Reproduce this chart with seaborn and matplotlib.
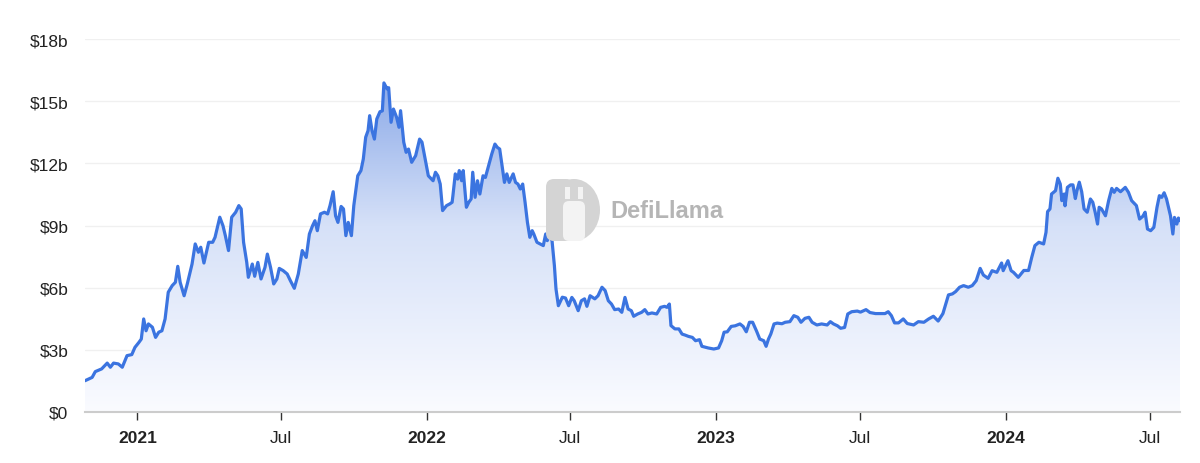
import numpy as np
import pandas as pd
import seaborn as sns
import matplotlib.pyplot as plt
from matplotlib.colors import LinearSegmentedColormap
from matplotlib.patches import FancyBboxPatch, Ellipse, Rectangle
from matplotlib.transforms import IdentityTransform
import matplotlib.dates as mdates

# days since 2021-01-01, TVL in $ billions
days = [
    -66, -57, -53, -45, -38, -34, -30, -24, -19, -13, -7, -3, 2, 5, 8, 11, 14, 19, 23, 27,
    31, 35, 39, 44, 48, 51, 54, 59, 63, 69, 73, 77, 80, 84, 90, 95, 98, 104, 108, 111,
    115, 119, 124, 128, 131, 134, 138, 140, 145, 148, 152, 156, 161, 164, 168, 172, 176, 179, 184, 189,
    193, 198, 203, 208, 213, 217, 221, 224, 227, 231, 236, 240, 243, 247, 250, 253, 257, 260, 263, 266,
    270, 273, 278, 282, 285, 288, 291, 293, 296, 299, 302, 306, 309, 311, 315, 317, 320, 323, 327, 330,
    332, 336, 339, 342, 346, 351, 356, 359, 363, 367, 373, 376, 379, 382, 385, 390, 394, 397, 398, 401,
    404, 406, 409, 411, 415, 418, 421, 423, 426, 429, 432, 436, 439, 443, 447, 451, 454, 457, 460, 463,
    466, 469, 474, 477, 480, 483, 486, 489, 492, 495, 498, 500, 504, 508, 512, 515, 517, 520, 523, 526,
    528, 531, 536, 540, 544, 548, 551, 556, 560, 564, 567, 571, 577, 581, 586, 590, 594, 598, 602, 607,
    611, 615, 619, 623, 626, 631, 636, 640, 644, 649, 655, 660, 665, 668, 671, 673, 678, 683, 687, 691,
    695, 700, 704, 709, 712, 720, 727, 733, 737, 740, 744, 749, 754, 760, 764, 768, 772, 776, 781, 785,
    790, 793, 796, 799, 803, 807, 813, 817, 823, 828, 833, 837, 842, 847, 851, 857, 863, 870, 874, 878,
    883, 887, 892, 896, 901, 908, 912, 919, 924, 931, 937, 943, 947, 951, 955, 960, 966, 971, 979, 985,
    992, 998, 1004, 1010, 1016, 1019, 1023, 1028, 1032, 1037, 1042, 1048, 1053, 1058, 1063, 1067, 1073, 1078, 1084, 1090,
    1092, 1098, 1102, 1105, 1111, 1118, 1124, 1128, 1132, 1137, 1143, 1146, 1148, 1151, 1153, 1158, 1161, 1164, 1166, 1169,
    1170, 1173, 1177, 1180, 1183, 1185, 1188, 1191, 1194, 1198, 1202, 1205, 1208, 1211, 1213, 1216, 1221, 1225, 1229, 1232,
    1235, 1240, 1246, 1250, 1254, 1260, 1264, 1268, 1271, 1274, 1278, 1282, 1286, 1289, 1292, 1295, 1298, 1303, 1306, 1308,
    1311, 1313, 1315,
]
tvl = [
    1.51, 1.67, 1.95, 2.08, 2.36, 2.16, 2.36, 2.32, 2.16, 2.72, 2.77, 3.12, 3.36, 3.52, 4.49, 3.92, 4.25, 4.09, 3.60, 3.85,
    3.92, 4.49, 5.78, 6.10, 6.26, 7.03, 6.26, 5.61, 6.18, 7.14, 8.11, 7.71, 7.95, 7.19, 8.19, 8.19, 8.43, 9.40, 8.99, 8.51,
    7.79, 9.40, 9.64, 9.96, 9.80, 8.19, 7.22, 6.50, 7.14, 6.55, 7.22, 6.42, 6.98, 7.62, 6.98, 6.18, 6.42, 6.93, 6.82, 6.66,
    6.34, 5.97, 6.66, 7.79, 7.46, 8.59, 8.99, 9.23, 8.75, 9.56, 9.64, 9.56, 9.96, 10.63, 9.47, 9.15, 9.92, 9.80, 8.51, 9.15,
    8.51, 9.96, 11.40, 11.65, 12.21, 13.26, 13.58, 14.30, 13.58, 13.17, 14.14, 14.49, 14.53, 15.88, 15.59, 15.65, 13.98, 14.62, 14.22, 13.74,
    14.54, 13.02, 12.53, 12.69, 12.05, 12.37, 13.17, 13.02, 12.21, 11.40, 11.16, 11.57, 11.40, 11.00, 9.72, 9.96, 10.04, 10.12, 10.44, 11.49,
    11.24, 11.65, 11.16, 11.65, 9.88, 10.12, 10.28, 11.57, 10.36, 11.16, 10.52, 11.40, 11.32, 11.89, 12.45, 12.93, 12.77, 12.69, 11.89, 11.08,
    11.49, 11.08, 11.49, 11.08, 11.00, 10.76, 11.00, 10.12, 9.15, 8.43, 8.75, 8.59, 8.19, 8.11, 8.03, 8.59, 8.27, 8.51, 8.27, 7.06,
    5.94, 5.13, 5.54, 5.50, 5.13, 5.53, 5.37, 4.89, 5.37, 5.46, 5.10, 5.61, 5.46, 5.61, 6.02, 5.86, 5.37, 5.21, 4.94, 4.97,
    4.81, 5.53, 4.97, 4.89, 4.62, 4.73, 4.81, 4.94, 4.73, 4.78, 4.73, 5.05, 5.10, 5.05, 5.21, 4.17, 4.01, 4.01, 3.76, 3.71,
    3.65, 3.60, 3.44, 3.49, 3.17, 3.09, 3.04, 3.09, 3.44, 3.85, 3.87, 4.13, 4.16, 4.25, 4.13, 3.87, 4.33, 4.33, 3.90, 3.52,
    3.44, 3.17, 3.52, 3.77, 4.25, 4.29, 4.26, 4.33, 4.36, 4.65, 4.57, 4.33, 4.52, 4.57, 4.33, 4.20, 4.25, 4.20, 4.36, 4.25,
    4.16, 4.04, 4.08, 4.73, 4.84, 4.87, 4.82, 4.94, 4.80, 4.75, 4.75, 4.75, 4.84, 4.65, 4.30, 4.30, 4.49, 4.27, 4.20, 4.36,
    4.33, 4.49, 4.62, 4.39, 4.75, 5.13, 5.65, 5.70, 5.81, 6.02, 6.10, 6.02, 6.10, 6.34, 6.93, 6.61, 6.45, 6.82, 6.74, 7.19,
    6.82, 7.30, 6.82, 6.74, 6.50, 6.83, 6.83, 7.46, 8.03, 8.19, 8.11, 8.67, 9.67, 9.80, 10.52, 10.68, 11.28, 11.00, 10.20, 10.52,
    9.95, 10.84, 10.96, 10.96, 10.30, 10.68, 11.09, 10.63, 9.80, 9.64, 10.28, 10.12, 9.64, 9.07, 9.88, 9.80, 9.47, 10.20, 10.79, 10.60,
    10.79, 10.63, 10.84, 10.60, 10.20, 9.96, 9.31, 9.44, 9.64, 8.83, 8.75, 8.91, 9.88, 10.44, 10.36, 10.58, 10.28, 9.47, 8.59, 9.39,
    9.07, 9.36, 9.23,
]

tick_dates = ["2021-01-01", "2021-07-01", "2022-01-01", "2022-07-01",
              "2023-01-01", "2023-07-01", "2024-01-01", "2024-07-01"]
tick_labels = ["2021", "Jul", "2022", "Jul", "2023", "Jul", "2024", "Jul"]
y_ticks = [0, 3, 6, 9, 12, 15, 18]
y_labels = ["$0", "$3b", "$6b", "$9b", "$12b", "$15b", "$18b"]

df = pd.DataFrame({
    "date": pd.Timestamp("2021-01-01") + pd.to_timedelta(days, unit="D"),
    "tvl": tvl,
})

sns.set_theme(style="white")
plt.rcParams["font.family"] = ["Liberation Sans", "DejaVu Sans"]

line_color = "#3b74e0"

fig = plt.figure(figsize=(12, 4.64), dpi=100)
ax = fig.add_axes([85 / 1200, 1 - 413 / 464, 1095 / 1200, 373 / 464])

sns.lineplot(data=df, x="date", y="tvl", ax=ax, color=line_color, linewidth=2.3, zorder=3)

# gradient fill under the line
xnum = mdates.date2num(df["date"])
poly = ax.fill_between(df["date"], df["tvl"], 0, facecolor="none", edgecolor="none")
grad = np.linspace(0, 1, 256).reshape(-1, 1)
cmap = LinearSegmentedColormap.from_list("tvl_fill", ["#fafbff", "#d6e1f8", "#7599e3"])
im = ax.imshow(grad, aspect="auto", origin="lower", cmap=cmap,
               extent=[xnum[0], xnum[-1], 0, 18], zorder=1)
im.set_clip_path(poly.get_paths()[0], transform=ax.transData)

ax.set_xlim(df["date"].iloc[0], df["date"].iloc[-1])
ax.set_ylim(0, 18)

ax.set_yticks(y_ticks)
ax.set_yticklabels(y_labels)
ax.set_xticks(pd.to_datetime(tick_dates))
ax.set_xticklabels(tick_labels)
for lbl, txt in zip(ax.get_xticklabels(), tick_labels):
    if txt != "Jul":
        lbl.set_fontweight("bold")

ax.grid(axis="y", color="#f0f0f0", linewidth=1)
ax.set_axisbelow(True)
for s in ["top", "right", "left"]:
    ax.spines[s].set_visible(False)
ax.spines["bottom"].set_color("#cccccc")
ax.spines["bottom"].set_linewidth(1.5)
ax.tick_params(axis="y", length=0, pad=12, labelsize=12.5, labelcolor="#222222")
ax.tick_params(axis="x", bottom=True, direction="out", length=6, width=1, color="#333333",
               pad=7, labelsize=12.5, labelcolor="#222222")
ax.set_xlabel("")
ax.set_ylabel("")

# DefiLlama watermark (D-shaped logo + name)
px = IdentityTransform()
logo = "#d4d4d4"
fig.patches.append(FancyBboxPatch((546, 464 - 242), 28, 62, boxstyle="round,pad=0,rounding_size=8",
                                  transform=px, facecolor=logo, edgecolor="none", zorder=4))
fig.patches.append(Ellipse((574, 464 - 211), 52, 62, transform=px, facecolor=logo,
                           edgecolor="none", zorder=4))
fig.patches.append(FancyBboxPatch((563, 464 - 242), 22, 40, boxstyle="round,pad=0,rounding_size=6",
                                  transform=px, facecolor="#f3f3f3", edgecolor="none", zorder=5))
fig.patches.append(Rectangle((565, 464 - 200), 5, 12, transform=px, facecolor="#f3f3f3",
                             edgecolor="none", zorder=5))
fig.patches.append(Rectangle((578, 464 - 200), 5, 12, transform=px, facecolor="#f3f3f3",
                             edgecolor="none", zorder=5))
fig.text(610 / 1200, 1 - 212 / 464, "DefiLlama", fontsize=17, fontweight="bold",
         color="#b5b5b5", va="center", ha="left")

fig.savefig("out.png", dpi=100)
